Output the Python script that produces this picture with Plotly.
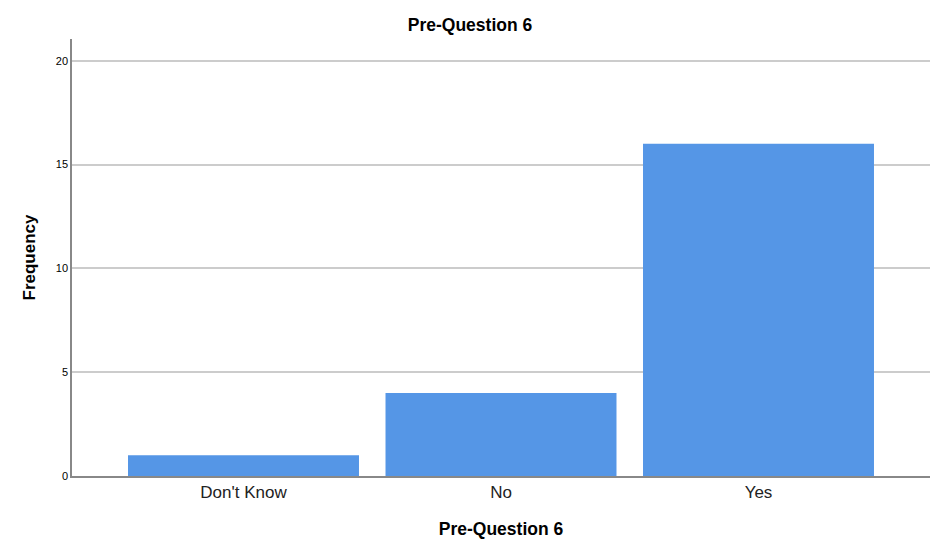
import plotly.graph_objects as go

categories = ["Don't Know", "No", "Yes"]
frequency = [1, 4, 16]
y_ticks = [0, 5, 10, 15, 20]

fig = go.Figure()
fig.add_trace(go.Bar(
    x=categories, y=frequency,
    width=0.897,
    marker=dict(color='#5596E6', line=dict(width=0)),
))

# page body adds an 8px offset, so margins are shifted to compensate
fig.update_layout(
    width=941, height=554,
    margin=dict(l=64, r=19, t=31, b=86),
    paper_bgcolor='white', plot_bgcolor='white',
    font=dict(family='Liberation Sans, Arial', color='black'),
    title=dict(text='<b>Pre-Question 6</b>', x=(470 - 8) / 941, xanchor='center',
               y=1 - 17/554, yanchor='middle', font=dict(size=17.5)),
    showlegend=False,
)
fig.update_xaxes(
    range=[-0.666, 2.666],
    showline=True, linecolor='#888888', linewidth=1.5,
    showgrid=False, ticks='',
    tickfont=dict(size=17, color='#222222'),
    title=dict(text='<b>Pre-Question 6</b>', font=dict(size=17.5), standoff=22),
)
fig.update_yaxes(
    range=[0, 21.05],
    tickvals=y_ticks,
    showline=True, linecolor='#888888', linewidth=1.5,
    showgrid=True, gridcolor='#cccccc', gridwidth=1.5,
    zeroline=False, ticks='',
    tickfont=dict(size=11),
    title=dict(text='<b>Frequency</b>', font=dict(size=17), standoff=16),
)

fig.write_html("out.html")
